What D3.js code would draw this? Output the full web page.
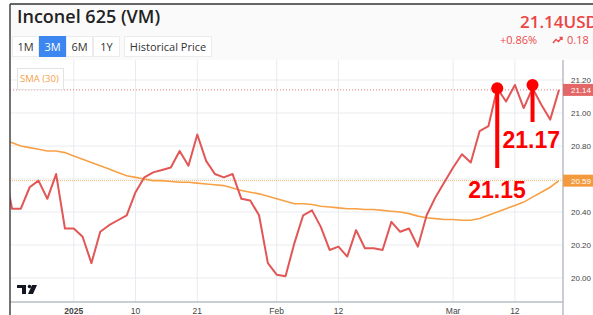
<!DOCTYPE html>
<html>
<head>
<meta charset="utf-8">
<script src="https://cdn.jsdelivr.net/npm/d3@7"></script>
<style>
  body { margin: 0; background: #fff; overflow: hidden; }
  svg { display: block; font-family: "Open Sans", "Noto Sans", sans-serif; }
</style>
</head>
<body>
<svg id="chart" width="593" height="315"></svg>
<script>
// --- data ---
var firstDay = "2024-12-20", lastDay = "2025-03-19";   // trading days shown (weekdays)
var price = [20.70, 20.42, 20.42, 20.55, 20.59, 20.48, 20.63, 20.30, 20.30, 20.25,
             20.09, 20.28, 20.32, 20.35, 20.38, 20.52, 20.61, 20.64, 20.655, 20.67,
             20.77, 20.68, 20.87, 20.71, 20.63, 20.61, 20.63, 20.48, 20.47, 20.38,
             20.09, 20.02, 20.01, 20.21, 20.38, 20.41, 20.31, 20.17, 20.19, 20.13,
             20.29, 20.18, 20.18, 20.17, 20.34, 20.28, 20.30, 20.19, 20.38, 20.49,
             20.58, 20.67, 20.75, 20.70, 20.89, 20.92, 21.15, 21.07, 21.17, 21.03,
             21.15, 21.05, 20.96, 21.14];
var sma30 = [20.84, 20.82, 20.80, 20.79, 20.78, 20.77, 20.77, 20.76, 20.74, 20.72,
             20.70, 20.68, 20.66, 20.64, 20.62, 20.61, 20.60, 20.59, 20.59, 20.585,
             20.58, 20.58, 20.575, 20.57, 20.565, 20.56, 20.545, 20.53, 20.52, 20.51,
             20.495, 20.48, 20.465, 20.45, 20.45, 20.445, 20.435, 20.43, 20.425, 20.42,
             20.42, 20.415, 20.415, 20.41, 20.405, 20.40, 20.39, 20.375, 20.365, 20.36,
             20.355, 20.355, 20.35, 20.35, 20.36, 20.38, 20.40, 20.42, 20.44, 20.46,
             20.49, 20.52, 20.55, 20.59];
var yTicks = [20.00, 20.20, 20.40, 20.60, 20.80, 21.00, 21.20];
var xTickDates = ["2025-01-01", "2025-01-10", "2025-01-21", "2025-02-03", "2025-02-12", "2025-03-03", "2025-03-12"];
var xTickLabels = ["2025", "10", "21", "Feb", "12", "Mar", "12"];
var lastPrice = 21.14, lastSma = 20.59;
var periods = ["1M", "3M", "6M", "1Y"];
var notes = [{ day: "2025-03-10", value: 21.15, label: "21.15" },
             { day: "2025-03-14", value: 21.17, label: "21.17" }];

var svg = d3.select("#chart");
var parse = d3.utcParse("%Y-%m-%d");

var days = d3.utcDay.range(parse(firstDay), d3.utcDay.offset(parse(lastDay), 1))
  .filter(function(d) { return d.getUTCDay() != 0 && d.getUTCDay() != 6; });
var key = d3.utcFormat("%Y-%m-%d");
var dayKeys = days.map(key);

var pLeft = 10, pRight = 563, pTop = 60, pBottom = 302;

var x = d3.scalePoint().domain(dayKeys).range([3.2, 559]);
var y = d3.scaleLinear().domain([20, 21.2]).range([278, 80]);

// header background
svg.append("rect").attr("x", pLeft).attr("y", 4).attr("width", 593 - pLeft).attr("height", pTop - 4)
  .attr("fill", "#fafafa");
svg.append("rect").attr("x", pLeft).attr("y", pTop).attr("width", pRight - pLeft).attr("height", pBottom - pTop)
  .attr("fill", "#fff");

// grid
var grid = svg.append("g");
grid.selectAll(".hg").data(yTicks).enter().append("line")
  .attr("x1", pLeft).attr("x2", pRight)
  .attr("y1", function(d) { return y(d); }).attr("y2", function(d) { return y(d); })
  .attr("stroke", "#e8ebef").attr("stroke-width", 1);
grid.selectAll(".vg").data(xTickDates).enter().append("line")
  .attr("x1", function(d) { return x(d); }).attr("x2", function(d) { return x(d); })
  .attr("y1", pTop).attr("y2", pBottom)
  .attr("stroke", "#e8ebef").attr("stroke-width", 1);

// clip for the series
svg.append("clipPath").attr("id", "plotClip").append("rect")
  .attr("x", pLeft).attr("y", pTop).attr("width", pRight - pLeft).attr("height", pBottom - pTop);

// dotted last value lines
svg.append("line").attr("x1", pLeft).attr("x2", pRight).attr("y1", y(lastPrice)).attr("y2", y(lastPrice))
  .attr("stroke", "#ec7a7a").attr("stroke-width", 1).attr("stroke-dasharray", "1,2");
svg.append("line").attr("x1", pLeft).attr("x2", pRight).attr("y1", y(lastSma)).attr("y2", y(lastSma))
  .attr("stroke", "#f7b873").attr("stroke-width", 1).attr("stroke-dasharray", "1,1");

var line = d3.line()
  .x(function(d, i) { return x(dayKeys[i]); })
  .y(function(d) { return y(d); });

var series = svg.append("g").attr("clip-path", "url(#plotClip)");
series.append("path").datum(sma30).attr("d", line)
  .attr("fill", "none").attr("stroke", "#f7a046").attr("stroke-width", 1.6);
series.append("path").datum(price).attr("d", line)
  .attr("fill", "none").attr("stroke", "#e25656").attr("stroke-width", 2)
  .attr("stroke-linejoin", "round");

// axes lines
svg.append("line").attr("x1", pRight).attr("x2", pRight).attr("y1", pTop).attr("y2", 315)
  .attr("stroke", "#b8bcc4").attr("stroke-width", 1.5);
svg.append("line").attr("x1", pLeft).attr("x2", pRight).attr("y1", pBottom).attr("y2", pBottom)
  .attr("stroke", "#b8bcc4").attr("stroke-width", 1.5);

// y labels
svg.selectAll(".yl").data(yTicks.filter(function(d) { return d != 20.6; })).enter().append("text")
  .attr("x", 571).attr("y", function(d) { return y(d) + 3; })
  .attr("font-size", 8).attr("fill", "#444")
  .style("font-family", "Liberation Sans, Arial, sans-serif")
  .text(function(d) { return d.toFixed(2); });

// last value badges
function badge(v, color) {
  svg.append("rect").attr("x", pRight).attr("y", y(v) - 6).attr("width", 31).attr("height", 12)
    .attr("fill", color);
  svg.append("text").attr("x", 571).attr("y", y(v) + 3)
    .attr("font-size", 8).attr("fill", "#fff")
    .style("font-family", "Liberation Sans, Arial, sans-serif")
    .text(v.toFixed(2));
}
badge(lastPrice, "#e46767");
badge(lastSma, "#f39a3c");

// x labels
svg.selectAll(".xl").data(xTickDates).enter().append("text")
  .attr("x", function(d) { return x(d); }).attr("y", 314)
  .attr("text-anchor", "middle").attr("font-size", 8.5).attr("fill", "#444")
  .attr("font-weight", function(d, i) { return xTickLabels[i] == "2025" ? "bold" : "normal"; })
  .style("font-family", "Liberation Sans, Arial, sans-serif")
  .text(function(d, i) { return xTickLabels[i]; });

// SMA legend
svg.append("rect").attr("x", 17.5).attr("y", 68.5).attr("width", 46).attr("height", 21)
  .attr("fill", "#fff").attr("stroke", "#e3e3e3");
svg.append("text").attr("x", 20).attr("y", 82).attr("font-size", 9.5).attr("fill", "#f5a04a")
  .text("SMA (30)");

// TradingView mark
var logo = svg.append("g").attr("fill", "#131722");
logo.append("rect").attr("x", 17).attr("y", 285).attr("width", 9).attr("height", 3);
logo.append("rect").attr("x", 22).attr("y", 285).attr("width", 4).attr("height", 9);
logo.append("circle").attr("cx", 29.5).attr("cy", 286.5).attr("r", 1.8);
logo.append("path").attr("d", "M32,285 L37,285 L33,294 L28,294 Z");

// annotations
notes.forEach(function(n, i) {
  var cx = x(n.day), cy = y(n.value);
  var tail = i == 0 ? 168 : 122;
  svg.append("line").attr("x1", cx).attr("x2", cx).attr("y1", cy).attr("y2", tail)
    .attr("stroke", "#ff0000").attr("stroke-width", 4);
  svg.append("circle").attr("cx", cx).attr("cy", cy).attr("r", 6).attr("fill", "#ff0000");
  svg.append("text")
    .attr("x", i == 0 ? cx - 29 : cx - 30)
    .attr("y", i == 0 ? 198 : 148)
    .attr("font-size", 23).attr("font-weight", "bold").attr("fill", "#ff0000")
    .style("font-family", "Liberation Sans, Arial, sans-serif")
    .text(n.label);
});

// header
svg.append("text").attr("x", 17).attr("y", 23).attr("font-size", 18).attr("font-weight", 600)
  .attr("fill", "#222").text("Inconel 625 (VM)");

var btnX = [12, 39, 66, 93];
periods.forEach(function(p, i) {
  svg.append("rect").attr("x", btnX[i] + 0.5).attr("y", 36.5).attr("width", 26).attr("height", 20)
    .attr("fill", p == "3M" ? "#3b86f0" : "#fff").attr("stroke", p == "3M" ? "#3b86f0" : "#ececec");
  svg.append("text").attr("x", btnX[i] + 13.5).attr("y", 50.5).attr("text-anchor", "middle")
    .attr("font-size", 11).attr("fill", p == "3M" ? "#fff" : "#333").text(p);
});
svg.append("rect").attr("x", 124.5).attr("y", 36.5).attr("width", 87).attr("height", 20)
  .attr("fill", "#fff").attr("stroke", "#ececec");
svg.append("text").attr("x", 168).attr("y", 50.5).attr("text-anchor", "middle")
  .attr("font-size", 11).attr("fill", "#333").text("Historical Price");

svg.append("text").attr("x", 520).attr("y", 28).attr("font-size", 17).attr("font-weight", 600)
  .attr("fill", "#ec4343").text(lastPrice.toFixed(2) + "USD");
svg.append("text").attr("x", 500).attr("y", 44).attr("font-size", 11)
  .attr("fill", "#ec4a4a").text("+0.86%");
svg.append("path").attr("d", "M553,43 L556,39.5 L558.5,41.5 L562,37.5 M559.5,37.5 L562,37.5 L562,40")
  .attr("fill", "none").attr("stroke", "#ec4a4a").attr("stroke-width", 1.4);
svg.append("text").attr("x", 567).attr("y", 44).attr("font-size", 11)
  .attr("fill", "#ec4a4a").text("0.18");

// frame
svg.append("line").attr("x1", pLeft).attr("x2", 593).attr("y1", 4).attr("y2", 4)
  .attr("stroke", "#333").attr("stroke-width", 1.5);
svg.append("line").attr("x1", pLeft).attr("x2", pLeft).attr("y1", 4).attr("y2", 315)
  .attr("stroke", "#444").attr("stroke-width", 1.5);
</script>
</body>
</html>
